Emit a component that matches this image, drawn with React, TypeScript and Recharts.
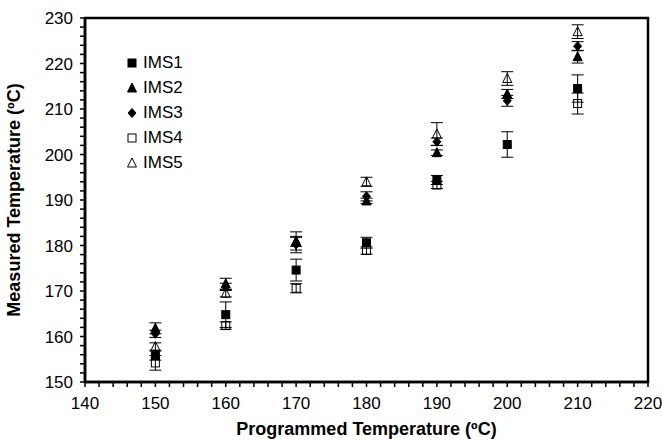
import React from 'react';
import { ScatterChart, Scatter, XAxis, YAxis, ErrorBar, ReferenceArea } from 'recharts';

const programmed = [150, 160, 170, 180, 190, 200, 210];

const ims1 = [155.8, 164.8, 174.6, 180.6, 194.4, 202.2, 214.5];
const ims1Err = [1.0, 2.8, 2.4, 1.2, 1.0, 2.8, 3.0];
const ims2 = [161.8, 171.6, 180.8, 189.8, 200.4, 213.3, 221.5];
const ims2Err = [1.2, 1.2, 1.0, 0.6, 0.6, 1.0, 1.4];
const ims3 = [160.6, 170.9, 180.2, 190.8, 202.8, 211.8, 223.8];
const ims3Err = [0.8, 0.8, 1.8, 1.0, 0.8, 1.2, 1.0];
const ims4 = [154.2, 162.4, 170.6, 178.9, 193.3, null, 211.2];
const ims4Err = [1.6, 0.8, 1.0, 0.8, 0.8, null, 2.3];
const ims5 = [157.8, 169.5, 181.0, 194.0, 204.5, 216.7, 227.0];
const ims5Err = [0.8, 0.8, 2.0, 1.0, 2.5, 1.5, 1.5];

const xMajor = [140, 150, 160, 170, 180, 190, 200, 210, 220];
const yMajor = [150, 160, 170, 180, 190, 200, 210, 220, 230];

const FONT = 'Arial, "Liberation Sans", sans-serif';

// minor ticks every 2 units between the labelled ones
const withMinor = (major: number[]) => {
  const out: number[] = [];
  for (let v = major[0]; v <= major[major.length - 1]; v += 2) out.push(v);
  return out;
};

const toData = (ys: (number | null)[], errs: (number | null)[]) =>
  programmed
    .map((x, i) => ({ x, y: ys[i], err: errs[i] }))
    .filter((d) => d.y !== null);

type Kind = 'square' | 'triangle' | 'diamond';

function Marker({ kind, filled, cx, cy }: { kind: Kind; filled: boolean; cx: number; cy: number }) {
  const fill = filled ? '#000' : 'none';
  const stroke = '#000';
  if (kind === 'square') {
    return <rect x={cx - 4} y={cy - 4} width={8} height={8} fill={fill} stroke={stroke} strokeWidth={1} />;
  }
  if (kind === 'triangle') {
    return (
      <polygon
        points={`${cx},${cy - 5} ${cx + 4.5},${cy + 4} ${cx - 4.5},${cy + 4}`}
        fill={fill}
        stroke={stroke}
        strokeWidth={1}
      />
    );
  }
  return (
    <polygon
      points={`${cx},${cy - 4.5} ${cx + 4},${cy} ${cx},${cy + 4.5} ${cx - 4},${cy}`}
      fill={fill}
      stroke={stroke}
      strokeWidth={1}
    />
  );
}

const seriesDefs: { name: string; ys: (number | null)[]; errs: (number | null)[]; kind: Kind; filled: boolean }[] = [
  { name: 'IMS1', ys: ims1, errs: ims1Err, kind: 'square', filled: true },
  { name: 'IMS2', ys: ims2, errs: ims2Err, kind: 'triangle', filled: true },
  { name: 'IMS3', ys: ims3, errs: ims3Err, kind: 'diamond', filled: true },
  { name: 'IMS4', ys: ims4, errs: ims4Err, kind: 'square', filled: false },
  { name: 'IMS5', ys: ims5, errs: ims5Err, kind: 'triangle', filled: false },
];

const XTick = (props: any) => {
  const { x, y, payload } = props;
  if (payload.value % 10 !== 0) return null;
  return (
    <text x={x} y={y} dy={16} textAnchor="middle" fontSize={17} fontFamily={FONT} fill="#000">
      {payload.value}
    </text>
  );
};

const YTick = (props: any) => {
  const { x, y, payload } = props;
  if (payload.value % 10 !== 0) return null;
  return (
    <text x={x} y={y} dy={6} textAnchor="end" fontSize={17} fontFamily={FONT} fill="#000">
      {payload.value}
    </text>
  );
};

const LegendBox = () => (
  <div style={{ position: 'absolute', left: 125, top: 50, fontFamily: FONT, fontSize: 17, color: '#000' }}>
    {seriesDefs.map((s) => (
      <div key={s.name} style={{ display: 'flex', alignItems: 'center', height: 25 }}>
        <svg width={14} height={14} style={{ marginRight: 4 }}>
          <Marker kind={s.kind} filled={s.filled} cx={7} cy={7} />
        </svg>
        <span>{s.name}</span>
      </div>
    ))}
  </div>
);

export default function App() {
  return (
    <div style={{ position: 'absolute', left: 0, top: 0, width: 662, height: 441, background: '#fff' }}>
      <ScatterChart width={662} height={441} margin={{ top: 18, right: 14, bottom: 0, left: 0 }}>
        <XAxis
          type="number"
          dataKey="x"
          domain={[140, 220]}
          ticks={withMinor(xMajor)}
          interval={0}
          tick={<XTick />}
          tickSize={5}
          tickMargin={6}
          tickLine={{ stroke: '#000', strokeWidth: 1.5 }}
          axisLine={{ stroke: '#000', strokeWidth: 2.5 }}
          height={59}
          allowDataOverflow
          label={{
            value: 'Programmed Temperature (ºC)',
            position: 'insideBottom',
            offset: 6,
            style: { fontFamily: FONT, fontSize: 18, fontWeight: 'bold', fill: '#000' },
          }}
        />
        <YAxis
          type="number"
          dataKey="y"
          domain={[150, 230]}
          ticks={withMinor(yMajor)}
          interval={0}
          tick={<YTick />}
          tickSize={5}
          tickMargin={7}
          tickLine={{ stroke: '#000', strokeWidth: 1.5 }}
          axisLine={{ stroke: '#000', strokeWidth: 2.5 }}
          width={85}
          allowDataOverflow
          label={{
            value: 'Measured Temperature (ºC)',
            angle: -90,
            position: 'insideLeft',
            offset: 14,
            style: { textAnchor: 'middle', fontFamily: FONT, fontSize: 18, fontWeight: 'bold', fill: '#000' },
          }}
        />
        <ReferenceArea x1={140} x2={220} y1={150} y2={230} fill="none" stroke="#000" strokeWidth={2.5} />
        {seriesDefs.map((s) => (
          <Scatter
            key={s.name}
            name={s.name}
            data={toData(s.ys, s.errs)}
            isAnimationActive={false}
            shape={(p: any) => <Marker kind={s.kind} filled={s.filled} cx={p.cx} cy={p.cy} />}
          >
            <ErrorBar dataKey="err" direction="y" width={6} stroke="#000" strokeWidth={1} />
          </Scatter>
        ))}
      </ScatterChart>
      <LegendBox />
    </div>
  );
}
